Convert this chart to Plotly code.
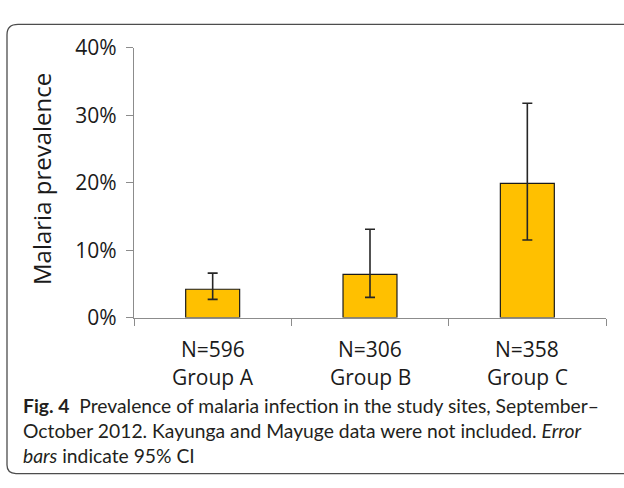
import plotly.graph_objects as go

# Malaria prevalence by study group with 95% confidence intervals
groups = ["Group A", "Group B", "Group C"]
sample_sizes = ["N=596", "N=306", "N=358"]
prevalence = [4.2, 6.4, 19.9]      # percent
ci_lower = [2.7, 3.0, 11.5]        # percent
ci_upper = [6.6, 13.1, 31.8]       # percent
y_ticks = [0, 10, 20, 30, 40]
y_tick_labels = ["0%", "10%", "20%", "30%", "40%"]

caption_lines = [
    "<b>Fig. 4</b>  Prevalence of malaria infection in the study sites, September\u2013",
    "October 2012. Kayunga and Mayuge data were not included. <i>Error</i>",
    "<i>bars</i> indicate 95% CI",
]

W, H = 624, 488
CHART_FONT = "Open Sans"
CAPTION_FONT = "Lato"
TEXT = "#1a1a1a"
AXIS = "#8c8c8c"


def px(x):
    return x / W


def py(y):
    return 1 - y / H


err_plus = [hi - p for hi, p in zip(ci_upper, prevalence)]
err_minus = [p - lo for lo, p in zip(ci_lower, prevalence)]

fig = go.Figure()
fig.add_trace(go.Bar(
    x=groups,
    y=prevalence,
    width=0.343,
    marker=dict(color="#FFC000", line=dict(color="#1a1a1a", width=1.2)),
    error_y=dict(type="data", symmetric=False, array=err_plus, arrayminus=err_minus,
                 color="#262626", thickness=1.6, width=5),
    showlegend=False,
    hoverinfo="skip",
))

annotations = []
# Category labels below the axis
for g, n in zip(groups, sample_sizes):
    annotations.append(dict(x=g, xref="x", y=py(354), yref="paper", text=n,
                            showarrow=False, xanchor="center", yanchor="middle",
                            font=dict(family=CHART_FONT, size=21, color=TEXT)))
    annotations.append(dict(x=g, xref="x", y=py(384), yref="paper", text=g,
                            showarrow=False, xanchor="center", yanchor="middle",
                            font=dict(family=CHART_FONT, size=21, color=TEXT)))

# Y-axis title
annotations.append(dict(x=px(41), xref="paper", y=py(174), yref="paper",
                        text="Malaria prevalence", textangle=-90, showarrow=False,
                        xanchor="center", yanchor="middle",
                        font=dict(family=CHART_FONT, size=24, color=TEXT)))

# Figure caption
for i, line in enumerate(caption_lines):
    annotations.append(dict(x=px(21), xref="paper", y=py(414.5 + 26.5 * i), yref="paper",
                            text=line, showarrow=False, xanchor="left", yanchor="middle",
                            align="left",
                            font=dict(family=CAPTION_FONT, size=19.3, color="#231f20")))

# Rounded frame around the figure (open on the right-hand side)
L, T, R, B = px(7), py(10), px(624), py(486.5)
r_top, r_bot = 11, 9
frame_path = (
    f"M {R},{T} L {L + r_top / W},{T} Q {L},{T} {L},{T - r_top / H} "
    f"L {L},{B + r_bot / H} Q {L},{B} {L + r_bot / W},{B} L {R},{B}"
)

fig.update_layout(
    width=W, height=H,
    margin=dict(l=0, r=0, t=0, b=0),
    paper_bgcolor="white",
    plot_bgcolor="white",
    annotations=annotations,
    shapes=[dict(type="path", path=frame_path, xref="paper", yref="paper",
                 line=dict(color="#4d4d4d", width=1.3))],
    xaxis=dict(
        domain=[px(134), px(606)],
        range=[-0.5, 2.5],
        showticklabels=False,
        showline=True, linecolor=AXIS, linewidth=1.3,
        ticks="outside", tickson="boundaries", ticklen=7, tickcolor=AXIS, tickwidth=1.3,
        showgrid=False, zeroline=False, fixedrange=True,
    ),
    yaxis=dict(
        domain=[py(321), py(35)],
        range=[0, 40],
        tickvals=y_ticks, ticktext=y_tick_labels,
        showline=True, linecolor=AXIS, linewidth=1.3,
        ticks="outside", ticklen=7, tickcolor=AXIS, tickwidth=1.3,
        ticklabelstandoff=5,
        tickfont=dict(family=CHART_FONT, size=21, color=TEXT),
        showgrid=False, zeroline=False, fixedrange=True,
    ),
)

fig.write_html("out.html", config={"displayModeBar": False})
